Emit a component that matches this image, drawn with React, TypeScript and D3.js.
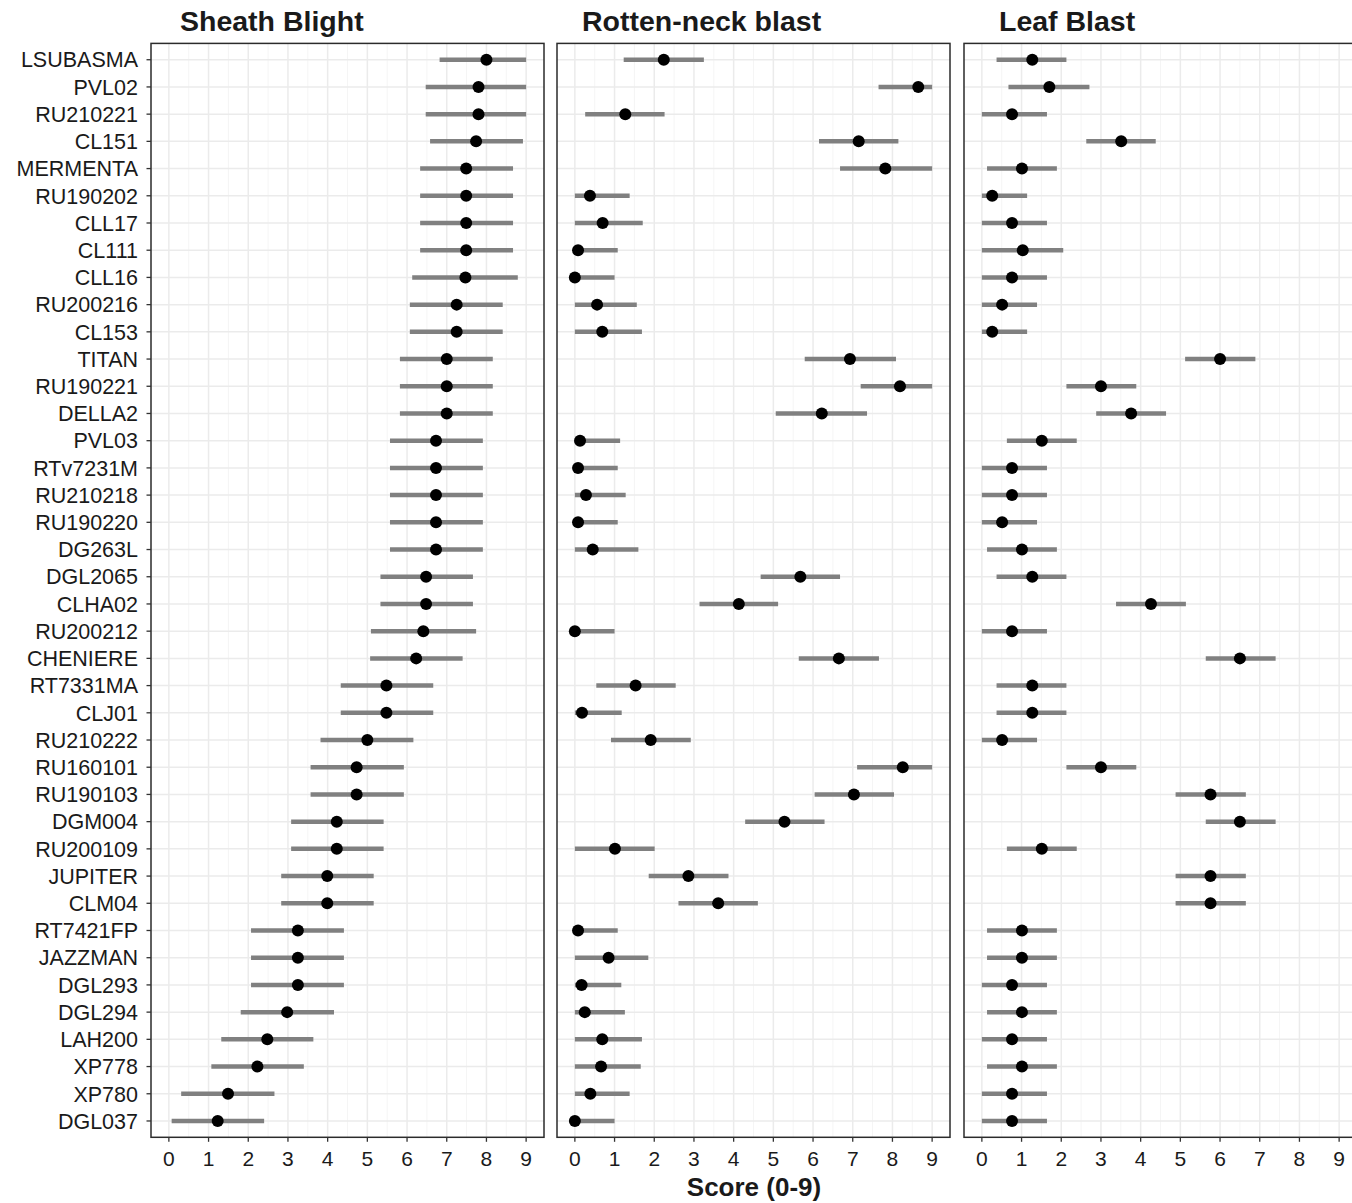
import * as d3 from "d3";

const genotypes = [
  "LSUBASMA", "PVL02", "RU210221", "CL151", "MERMENTA", "RU190202", "CLL17", "CL111",
  "CLL16", "RU200216", "CL153", "TITAN", "RU190221", "DELLA2", "PVL03", "RTv7231M",
  "RU210218", "RU190220", "DG263L", "DGL2065", "CLHA02", "RU200212", "CHENIERE", "RT7331MA",
  "CLJ01", "RU210222", "RU160101", "RU190103", "DGM004", "RU200109", "JUPITER", "CLM04",
  "RT7421FP", "JAZZMAN", "DGL293", "DGL294", "LAH200", "XP778", "XP780", "DGL037",
];

const diseases = ["Sheath Blight", "Rotten-neck blast", "Leaf Blast"];

// Sheath Blight
const sbMean = [8.0, 7.8, 7.8, 7.74, 7.49, 7.49, 7.49, 7.49, 7.47, 7.25, 7.25, 7.0, 7.0, 7.0, 6.73, 6.73, 6.73, 6.73, 6.73, 6.48, 6.48, 6.41, 6.23, 5.48, 5.48, 5.0, 4.73, 4.73, 4.23, 4.23, 3.99, 3.99, 3.25, 3.25, 3.25, 2.98, 2.48, 2.23, 1.49, 1.23];
const sbLow = [6.82, 6.47, 6.47, 6.58, 6.33, 6.33, 6.33, 6.33, 6.13, 6.07, 6.07, 5.82, 5.82, 5.82, 5.57, 5.57, 5.57, 5.57, 5.57, 5.33, 5.33, 5.09, 5.07, 4.33, 4.33, 3.82, 3.57, 3.57, 3.08, 3.08, 2.83, 2.83, 2.07, 2.07, 2.07, 1.81, 1.32, 1.07, 0.31, 0.07];
const sbHigh = [9.0, 9.0, 9.0, 8.92, 8.67, 8.67, 8.67, 8.67, 8.79, 8.41, 8.41, 8.16, 8.16, 8.16, 7.91, 7.91, 7.91, 7.91, 7.91, 7.66, 7.66, 7.74, 7.4, 6.66, 6.66, 6.16, 5.92, 5.92, 5.41, 5.41, 5.16, 5.16, 4.41, 4.41, 4.41, 4.16, 3.64, 3.4, 2.66, 2.4];

// Rotten-neck blast
const rnbMean = [2.24, 8.65, 1.27, 7.15, 7.82, 0.38, 0.7, 0.08, 0.0, 0.56, 0.69, 6.93, 8.19, 6.22, 0.13, 0.08, 0.28, 0.08, 0.45, 5.68, 4.13, 0.0, 6.65, 1.53, 0.18, 1.91, 8.26, 7.03, 5.28, 1.01, 2.86, 3.61, 0.08, 0.85, 0.17, 0.25, 0.69, 0.66, 0.39, 0.0];
const rnbLow = [1.23, 7.65, 0.26, 6.15, 6.68, 0, 0, 0, 0, 0, 0, 5.79, 7.2, 5.06, 0, 0, 0, 0, 0, 4.68, 3.14, 0, 5.64, 0.54, 0, 0.91, 7.11, 6.04, 4.29, 0, 1.86, 2.61, 0, 0, 0, 0, 0, 0, 0, 0];
const rnbHigh = [3.25, 9.0, 2.26, 8.15, 9.0, 1.38, 1.71, 1.08, 1.0, 1.56, 1.69, 8.09, 9.0, 7.36, 1.14, 1.08, 1.28, 1.08, 1.6, 6.68, 5.12, 1.0, 7.66, 2.54, 1.18, 2.92, 9.0, 8.04, 6.29, 2.01, 3.87, 4.61, 1.08, 1.85, 1.17, 1.26, 1.69, 1.66, 1.38, 1.0];

// Leaf Blast
const lbMean = [1.27, 1.7, 0.76, 3.51, 1.01, 0.26, 0.76, 1.03, 0.76, 0.51, 0.26, 6.0, 3.0, 3.76, 1.51, 0.76, 0.76, 0.51, 1.01, 1.27, 4.26, 0.76, 6.5, 1.27, 1.27, 0.51, 3.0, 5.76, 6.5, 1.51, 5.76, 5.76, 1.01, 1.01, 0.76, 1.01, 0.76, 1.01, 0.76, 0.76];
const lbLow = [0.37, 0.67, 0, 2.63, 0.13, 0, 0, 0, 0, 0, 0, 5.12, 2.13, 2.88, 0.63, 0, 0, 0, 0.13, 0.37, 3.38, 0, 5.64, 0.37, 0.37, 0, 2.13, 4.88, 5.64, 0.63, 4.88, 4.88, 0.13, 0.13, 0, 0.13, 0, 0.13, 0, 0];
const lbHigh = [2.13, 2.71, 1.64, 4.38, 1.89, 1.14, 1.64, 2.05, 1.64, 1.39, 1.14, 6.89, 3.89, 4.64, 2.39, 1.64, 1.64, 1.39, 1.89, 2.13, 5.14, 1.64, 7.4, 2.13, 2.13, 1.39, 3.89, 6.65, 7.4, 2.39, 6.65, 6.65, 1.89, 1.89, 1.64, 1.89, 1.64, 1.89, 1.64, 1.64];

const xTicks = [0, 1, 2, 3, 4, 5, 6, 7, 8, 9];
const xMinor = [0.5, 1.5, 2.5, 3.5, 4.5, 5.5, 6.5, 7.5, 8.5];

const series = [
  { mean: sbMean, low: sbLow, high: sbHigh },
  { mean: rnbMean, low: rnbLow, high: rnbHigh },
  { mean: lbMean, low: lbLow, high: lbHigh },
];

const W = 1352;
const H = 1203;
const panelLefts = [151, 557, 964];
const panelW = 393;
const top = 43.4;
const bottom = 1137.3;
const titleOffsets = [29, 25, 35];
const font = "'Liberation Sans', Arial, sans-serif";

export default function App() {
  const y = d3.scalePoint<string>().domain(genotypes).range([top, bottom]).padding(0.6);

  return (
    <div>
      <style>{`body{margin:0}`}</style>
      <svg width={W} height={H} style={{ display: "block", background: "#fff", fontFamily: font }}>
        {series.map((s, pi) => {
          const left = panelLefts[pi];
          const x = d3.scaleLinear().domain([-0.45, 9.45]).range([left, left + panelW]);
          return (
            <g key={pi}>
              {/* grid */}
              {xMinor.map((t) => (
                <line key={"mn" + t} x1={x(t)} x2={x(t)} y1={top} y2={bottom} stroke="#f5f5f5" strokeWidth={1} />
              ))}
              {xTicks.map((t) => (
                <line key={"mj" + t} x1={x(t)} x2={x(t)} y1={top} y2={bottom} stroke="#ebebeb" strokeWidth={1.5} />
              ))}
              {genotypes.map((g) => (
                <line key={"hy" + g} x1={left} x2={left + panelW} y1={y(g)} y2={y(g)} stroke="#ebebeb" strokeWidth={1.5} />
              ))}

              {/* error bars */}
              {genotypes.map((g, i) => (
                <line
                  key={"eb" + g}
                  x1={x(s.low[i])}
                  x2={x(s.high[i])}
                  y1={y(g)}
                  y2={y(g)}
                  stroke="#808080"
                  strokeWidth={4.5}
                />
              ))}
              {/* points */}
              {genotypes.map((g, i) => (
                <circle key={"pt" + g} cx={x(s.mean[i])} cy={y(g)} r={6} fill="#000" />
              ))}

              {/* border */}
              <rect x={left} y={top} width={panelW} height={bottom - top} fill="none" stroke="#2b2b2b" strokeWidth={1.5} />

              {/* x axis */}
              {xTicks.map((t) => (
                <g key={"xt" + t}>
                  <line x1={x(t)} x2={x(t)} y1={bottom} y2={bottom + 4.5} stroke="#333" strokeWidth={1.3} />
                  <text x={x(t)} y={bottom + 29} textAnchor="middle" fontSize={21} fill="#1a1a1a">
                    {t}
                  </text>
                </g>
              ))}

              {/* strip title */}
              <text x={left + titleOffsets[pi]} y={31} fontSize={28.5} fontWeight="bold" fill="#1a1a1a">
                {diseases[pi]}
              </text>
            </g>
          );
        })}

        {/* y axis */}
        {genotypes.map((g) => (
          <g key={"yl" + g}>
            <line x1={panelLefts[0] - 4.5} x2={panelLefts[0]} y1={y(g)} y2={y(g)} stroke="#333" strokeWidth={1.3} />
            <text x={panelLefts[0] - 13} y={y(g)} dy="0.36em" textAnchor="end" fontSize={21.5} fill="#1a1a1a">
              {g}
            </text>
          </g>
        ))}

        <text x={754} y={1196} textAnchor="middle" fontSize={26} fontWeight="bold" fill="#1a1a1a">
          Score (0-9)
        </text>
      </svg>
    </div>
  );
}
